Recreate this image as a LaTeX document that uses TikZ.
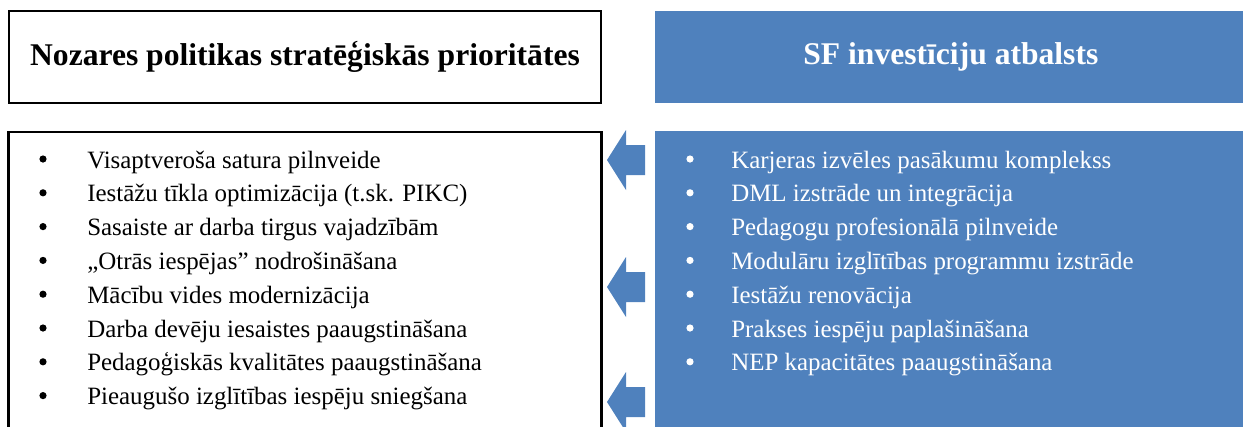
\documentclass[tikz,border=0pt]{standalone}
\usepackage{fontspec}
\setmainfont{Liberation Serif}
\usepackage{xcolor}
\usetikzlibrary{positioning}
\definecolor{sfblue}{HTML}{4F81BD}
\tikzset{
  head box/.style={
    rectangle,
    minimum width=444.5pt,
    minimum height=68.5pt,
    font=\fontsize{23.7}{28}\selectfont\bfseries,
    inner sep=0pt,
  },
  prio head/.style={head box, draw=black, line width=1.4pt, fill=white},
  sf head/.style={head box, fill=sfblue, text=white},
  body box/.style={
    rectangle,
    minimum width=444.5pt,
    minimum height=260pt,
    inner sep=0pt,
  },
  prio body/.style={body box, draw=black, line width=1.8pt, fill=white},
  sf body/.style={body box, fill=sfblue},
  list item/.style={anchor=base west, inner sep=0pt, font=\fontsize{18.7}{22}\selectfont},
  block arrow/.style={fill=sfblue},
}

\begin{document}
\begin{tikzpicture}[x=0.75pt, y=-0.75pt]
  \clip (0,0) rectangle (1243,426);
  % headers
  \node[prio head] (prio) at (305,57) {Nozares politikas stratēģiskās prioritātes};
  \node[sf head, right=39pt of prio] (sf) {SF investīciju atbalsts};
  % bodies
  \node[prio body, below=20.5pt of prio, anchor=north] (priobody) {};
  \node[sf body, below=20.5pt of sf, anchor=north] (sfbody) {};
  % priorities
  \foreach \txt [count=\i] in {
    {Visaptveroša satura pilnveide},
    {Iestāžu tīkla optimizācija (t.sk. PIKC)},
    {Sasaiste ar darba tirgus vajadzībām},
    {„Otrās iespējas” nodrošināšana},
    {Mācību vides modernizācija},
    {Darba devēju iesaistes paaugstināšana},
    {Pedagoģiskās kvalitātes paaugstināšana},
    {Pieaugušo izglītības iespēju sniegšana}}{
    \node[list item] (p\i) at (87,{168+(\i-1)*33.8}) {\txt};
    \fill (43,{159+(\i-1)*33.8}) circle[radius=2.7pt];
  }
  % support
  \foreach \txt [count=\i] in {
    {Karjeras izvēles pasākumu komplekss},
    {DML izstrāde un integrācija},
    {Pedagogu profesionālā pilnveide},
    {Modulāru izglītības programmu izstrāde},
    {Iestāžu renovācija},
    {Prakses iespēju paplašināšana},
    {NEP kapacitātes paaugstināšana}}{
    \node[list item, text=white] (s\i) at (731,{168+(\i-1)*33.8}) {\txt};
    \fill[white] (690,{159+(\i-1)*33.8}) circle[radius=2.7pt];
  }
  % arrows
  \foreach \ay in {160,287,402}{
    \fill[block arrow] (607,\ay) -- (626,\ay-30) -- (626,\ay-15) -- (645,\ay-15)
      -- (645,\ay+15) -- (626,\ay+15) -- (626,\ay+30) -- cycle;
  }
\end{tikzpicture}
\end{document}
